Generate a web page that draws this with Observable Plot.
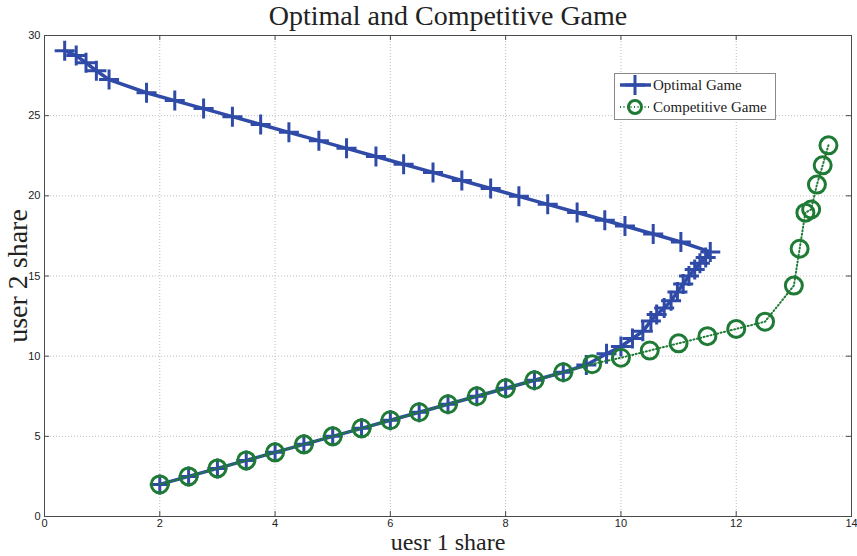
<!DOCTYPE html>
<html><head><meta charset="utf-8">
<script src="https://cdn.jsdelivr.net/npm/d3@7"></script>
<script src="https://cdn.jsdelivr.net/npm/@observablehq/plot@0.6"></script>
<style>
body{margin:0;background:#fff;}
#wrap{position:relative;width:857px;height:556px;}
#legend{position:absolute;left:614px;top:73px;width:162px;height:47px;border:1px solid #8a8a8a;background:#fff;box-sizing:border-box;font-family:"Liberation Serif",serif;font-size:15px;color:#222;}
#legend .row{position:absolute;left:0;height:20px;display:flex;align-items:center;}
#legend svg{display:block;}
</style></head><body><div id="wrap"><div id="legend"></div></div>
<script>
// ---- data ----
const titleText = "Optimal and Competitive Game";
const xLabelText = "uesr 1 share";
const yLabelText = "user 2 share";
const seriesNames = ["Optimal Game", "Competitive Game"];
const xTicks = [0, 2, 4, 6, 8, 10, 12, 14];
const yTicks = [0, 5, 10, 15, 20, 25, 30];

const optimalX = [2,2.5,3,3.5,4,4.5,5,5.5,6,6.5,7,7.5,8,8.5,9,9.4,9.75,10.0,10.2,10.38,10.52,10.62,10.75,10.87,10.98,11.08,11.18,11.28,11.37,11.47,11.55,
  11.04,10.56,10.07,9.72,9.24,8.73,8.23,7.74,7.24,6.74,6.23,5.75,5.24,4.76,4.24,3.75,3.26,2.76,2.26,1.77,1.12,0.9,0.72,0.55,0.35];
const optimalY = [2,2.5,3,3.5,4,4.5,5,5.5,6,6.5,7,7.5,8,8.5,9,9.45,10.15,10.6,11.1,11.55,12.2,12.6,13.0,13.45,14.0,14.5,15.0,15.4,15.8,16.15,16.5,
  17.12,17.62,18.12,18.48,18.96,19.47,19.97,20.46,20.96,21.46,21.97,22.45,22.96,23.44,23.96,24.45,24.94,25.44,25.94,26.43,27.25,27.8,28.3,28.75,29.05];

const competitiveX = [2,2.5,3,3.5,4,4.5,5,5.5,6,6.5,7,7.5,8,8.5,9,9.5,10,10.5,11,11.5,12,12.5,13,13.1,13.2,13.3,13.4,13.5,13.6];
const competitiveY = [2,2.5,3,3.5,4,4.5,5,5.5,6,6.5,7,7.5,8,8.5,9,9.5,9.9,10.35,10.8,11.25,11.7,12.15,14.4,16.7,18.95,19.15,20.7,21.9,23.15];

// ---- build ----
const optimal = optimalX.map((x, i) => ({x, y: optimalY[i]}));
const competitive = competitiveX.map((x, i) => ({x, y: competitiveY[i]}));

const W = 857, H = 556, mL = 44, mR = 6, mT = 35, mB = 40;
const innerW = W - mL - mR, innerH = H - mT - mB;
const blue = "#2f4ba7", green = "#1e7a34", frameCol = "#4a4a4a";
const serif = "Liberation Serif, serif";

const plusSym = {draw(ctx, size) {
  const r = Math.sqrt(size / Math.PI);
  ctx.moveTo(-r, 0); ctx.lineTo(r, 0); ctx.moveTo(0, -r); ctx.lineTo(0, r);
}};

const plot = Plot.plot({
  width: W, height: H,
  marginLeft: mL, marginRight: mR, marginTop: mT, marginBottom: mB,
  x: {domain: [0, 14]},
  y: {domain: [0, 30]},
  style: {fontFamily: "Liberation Sans, sans-serif", fontSize: "11px", background: "#fff", color: "#222"},
  marks: [
    Plot.gridX(xTicks.slice(1, -1), {stroke: "#bdbdbd", strokeOpacity: 1, strokeDasharray: "1,2"}),
    Plot.gridY(yTicks.slice(1, -1), {stroke: "#bdbdbd", strokeOpacity: 1, strokeDasharray: "1,2"}),
    Plot.tickX(xTicks, {x: d => d, insetTop: innerH - 5, stroke: frameCol}),
    Plot.tickX(xTicks, {x: d => d, insetBottom: innerH - 5, stroke: frameCol}),
    Plot.tickY(yTicks, {y: d => d, insetRight: innerW - 5, stroke: frameCol}),
    Plot.tickY(yTicks, {y: d => d, insetLeft: innerW - 5, stroke: frameCol}),
    Plot.frame({stroke: frameCol}),
    Plot.axisX(xTicks, {tickSize: 0, tickPadding: 3, label: null, fontSize: 11}),
    Plot.axisY(yTicks, {tickSize: 0, tickPadding: 4, label: null, fontSize: 11}),
    Plot.line(optimal, {x: "x", y: "y", stroke: blue, strokeWidth: 3.5, strokeLinejoin: "round"}),
    Plot.dot(optimal, {x: "x", y: "y", symbol: plusSym, r: 10, stroke: blue, strokeWidth: 3, fill: "none"}),
    Plot.line(competitive, {x: "x", y: "y", stroke: green, strokeWidth: 2, strokeDasharray: "1,2.5"}),
    Plot.dot(competitive, {x: "x", y: "y", symbol: "circle", r: 8.5, stroke: green, strokeWidth: 3, fill: "none"}),
    Plot.text([titleText], {text: d => d, frameAnchor: "top", lineAnchor: "middle", textAnchor: "middle", dy: -19, fontSize: 28, fontFamily: serif, fill: "#222"}),
    Plot.text([xLabelText], {text: d => d, frameAnchor: "bottom", lineAnchor: "middle", textAnchor: "middle", dy: 26, fontSize: 24, fontFamily: serif, fill: "#222"}),
    Plot.text([yLabelText], {text: d => d, frameAnchor: "left", lineAnchor: "middle", textAnchor: "middle", dx: -26, rotate: -90, fontSize: 28, fontFamily: serif, fill: "#222"})
  ]
});
document.getElementById("wrap").prepend(plot);

// legend
const legend = document.getElementById("legend");
const items = [
  {name: seriesNames[0], color: blue, kind: "plus", top: 1},
  {name: seriesNames[1], color: green, kind: "circle", top: 23}
];
for (const it of items) {
  const row = document.createElement("div");
  row.className = "row";
  row.style.top = it.top + "px";
  const ns = "http://www.w3.org/2000/svg";
  const s = document.createElementNS(ns, "svg");
  s.setAttribute("width", 38); s.setAttribute("height", 20);
  const ln = document.createElementNS(ns, "line");
  ln.setAttribute("x1", 5); ln.setAttribute("x2", 36); ln.setAttribute("y1", 10); ln.setAttribute("y2", 10);
  ln.setAttribute("stroke", it.color);
  if (it.kind === "plus") { ln.setAttribute("stroke-width", 3.5); }
  else { ln.setAttribute("stroke-width", 2); ln.setAttribute("stroke-dasharray", "1,2.5"); }
  s.appendChild(ln);
  if (it.kind === "plus") {
    const p = document.createElementNS(ns, "path");
    p.setAttribute("d", "M10,10H30M20,0V20");
    p.setAttribute("stroke", it.color); p.setAttribute("stroke-width", 3); p.setAttribute("fill", "none");
    s.appendChild(p);
  } else {
    const c = document.createElementNS(ns, "circle");
    c.setAttribute("cx", 20); c.setAttribute("cy", 10); c.setAttribute("r", 6.5);
    c.setAttribute("stroke", it.color); c.setAttribute("stroke-width", 3); c.setAttribute("fill", "none");
    s.appendChild(c);
  }
  row.appendChild(s);
  const t = document.createElement("span");
  t.textContent = it.name;
  row.appendChild(t);
  legend.appendChild(row);
}
</script></body></html>
